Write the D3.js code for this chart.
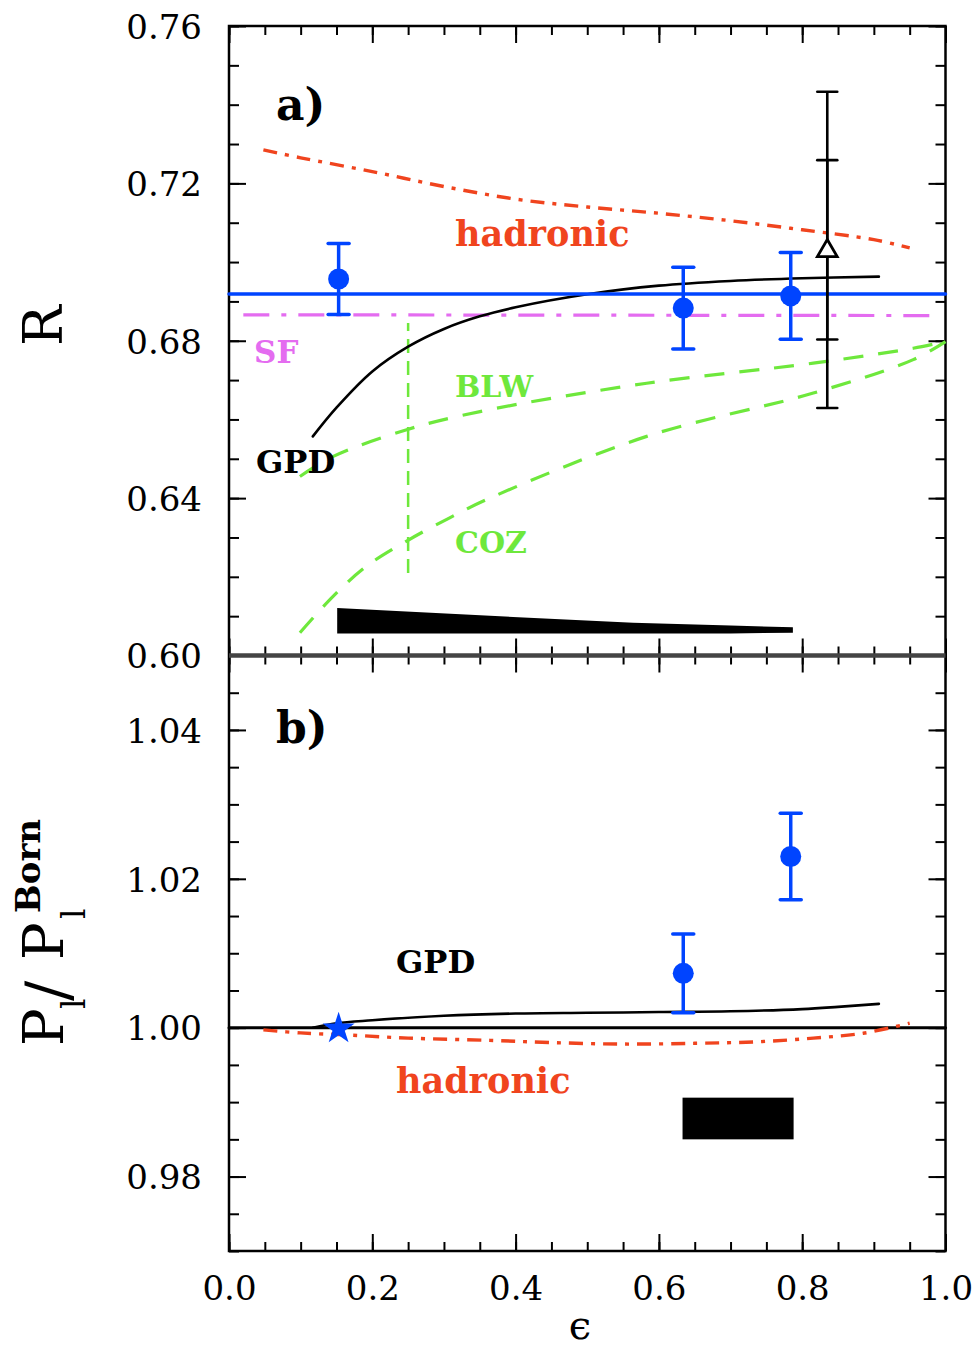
<!DOCTYPE html>
<html>
<head>
<meta charset="utf-8">
<script src="https://cdn.jsdelivr.net/npm/d3@7"></script>
<style>
  html, body { margin: 0; padding: 0; background: #fff; }
  svg { display: block; }
  text { font-family: "DejaVu Serif", serif; }
</style>
</head>
<body>
<svg id="chart" width="974" height="1350"></svg>
<script>
// ---------------- DATA ----------------
const xMajorTicks = [0, 0.2, 0.4, 0.6, 0.8, 1.0];
const xTickLabels = ["0.0", "0.2", "0.4", "0.6", "0.8", "1.0"];
const topYMajorTicks = [0.60, 0.64, 0.68, 0.72, 0.76];
const topYTickLabels = ["0.60", "0.64", "0.68", "0.72", "0.76"];
const botYMajorTicks = [0.98, 1.00, 1.02, 1.04];
const botYTickLabels = ["0.98", "1.00", "1.02", "1.04"];

// panel a) : R vs epsilon
const dataEps = [0.153, 0.634, 0.784];
const dataR = [0.6957, 0.6883, 0.6914];
const dataRErr = [0.0090, 0.0104, 0.0110];

const triEps = [0.835];
const triR = [0.7031];
const triStatErr = [0.0228];
const triTotErr = [0.0402];

const fitEps = [0.0, 1.0];
const fitR = [0.6919, 0.6919];

const gpdTopEps = [0.117, 0.15, 0.2, 0.25, 0.3, 0.35, 0.4, 0.5, 0.6, 0.7, 0.8, 0.907];
const gpdTopR = [0.6557, 0.6630, 0.6722, 0.6785, 0.6830, 0.6862, 0.6885, 0.6918, 0.6940, 0.6952, 0.6959, 0.6963];

const hadTopEps = [0.048, 0.1, 0.2, 0.3, 0.4, 0.5, 0.6, 0.7, 0.8, 0.9, 0.95];
const hadTopR = [0.7285, 0.7265, 0.7230, 0.7192, 0.7160, 0.7140, 0.7124, 0.7105, 0.7082, 0.7057, 0.7036];

const sfEps = [0.02, 0.982];
const sfR = [0.6866, 0.6864];

const blwEps = [0.099, 0.1456, 0.248, 0.3503, 0.583, 0.8155, 0.955, 1.0];
const blwR = [0.6455, 0.6506, 0.6574, 0.6620, 0.6692, 0.6743, 0.6781, 0.6798];

const cozEps = [0.099, 0.1456, 0.192, 0.248, 0.308, 0.364, 0.583, 0.8155, 0.955, 1.0];
const cozR = [0.6058, 0.6151, 0.6227, 0.6291, 0.6350, 0.6400, 0.6557, 0.6667, 0.6752, 0.6798];

const vLineEps = [0.25];
const vLineR = [0.6210, 0.6845];

const sysTopEps = [0.151, 0.33, 0.564, 0.70, 0.787];
const sysTopHi = [0.6121, 0.6104, 0.6083, 0.6076, 0.6072];
const sysTopLo = [0.6056, 0.6056, 0.6056, 0.6056, 0.6058];

// panel b) : P_l / P_l^Born vs epsilon
const starEps = [0.153];
const starP = [1.0000];

const dataPEps = [0.634, 0.784];
const dataP = [1.0073, 1.0230];
const dataPErr = [0.0053, 0.0058];

const unityEps = [0.0, 1.0];
const unityP = [1.0, 1.0];

const gpdBotEps = [0.117, 0.15, 0.2, 0.3, 0.4, 0.5, 0.6, 0.7, 0.8, 0.85, 0.907];
const gpdBotP = [1.0000, 1.0006, 1.0010, 1.0016, 1.0019, 1.0020, 1.0021, 1.0022, 1.0025, 1.0028, 1.0032];

const hadBotEps = [0.048, 0.1, 0.169, 0.25, 0.364, 0.45, 0.55, 0.65, 0.736, 0.8155, 0.885, 0.95];
const hadBotP = [0.9997, 0.9993, 0.9990, 0.9986, 0.9983, 0.9980, 0.9978, 0.9979, 0.9981, 0.9986, 0.99925, 1.0006];

const sysBotEps = [0.633, 0.788];
const sysBotLo = [0.9850, 0.9850];
const sysBotHi = [0.9906, 0.9906];

// ---------------- STYLE ----------------
const BLUE = "#0044ff", RED = "#f0441e", MAGENTA = "#e46cf0", GREEN = "#6ee83c";

// ---------------- SCALES ----------------
const svg = d3.select("#chart");
const X0 = 229, X1 = 945.5, YT = 26, YM = 655.5, YB = 1251;
const x = d3.scaleLinear().domain([0, 1]).range([X0, X1]);
const yA = d3.scaleLinear().domain([0.60, 0.76]).range([YM, YT]);
const yB = d3.scaleLinear().domain([0.97, 1.05]).range([YB, YM]);

const range = (a, b, s) => d3.range(Math.round((b - a) / s) + 1).map(i => +(a + i * s).toFixed(4));
const xMinor = range(0, 1, 0.05);
const yAMinor = range(0.60, 0.76, 0.01);
const yBMinor = range(0.97, 1.05, 0.005);

// ---------------- AXES ----------------
function ticks(g, axisFn, scale, values, size) {
  g.call(axisFn(scale).tickValues(values).tickSizeInner(size).tickSizeOuter(0).tickFormat(""))
   .call(s => s.select(".domain").remove())
   .selectAll("line").attr("stroke", "#000").attr("stroke-width", 2);
}
function panelAxes(yScale, yMajor, yMinor, yTop, yBot) {
  ticks(svg.append("g").attr("transform", `translate(${X0},0)`), d3.axisLeft, yScale, yMajor, -17);
  ticks(svg.append("g").attr("transform", `translate(${X0},0)`), d3.axisLeft, yScale, yMinor, -10);
  ticks(svg.append("g").attr("transform", `translate(${X1},0)`), d3.axisRight, yScale, yMajor, -17);
  ticks(svg.append("g").attr("transform", `translate(${X1},0)`), d3.axisRight, yScale, yMinor, -10);
  ticks(svg.append("g").attr("transform", `translate(0,${yTop})`), d3.axisTop, x, xMajorTicks, -17);
  ticks(svg.append("g").attr("transform", `translate(0,${yTop})`), d3.axisTop, x, xMinor, -9);
  ticks(svg.append("g").attr("transform", `translate(0,${yBot})`), d3.axisBottom, x, xMajorTicks, -17);
  ticks(svg.append("g").attr("transform", `translate(0,${yBot})`), d3.axisBottom, x, xMinor, -9);
}
panelAxes(yA, topYMajorTicks, yAMinor, YT, YM);
panelAxes(yB, botYMajorTicks, yBMinor, YM, YB);

// tick labels
function yLabels(scale, vals, labs) {
  svg.append("g").attr("transform", `translate(${X0},0)`)
    .call(d3.axisLeft(scale).tickValues(vals).tickSize(0).tickPadding(27)
      .tickFormat((d, i) => labs[i]))
    .call(s => s.select(".domain").remove())
    .selectAll("text").attr("font-family", "DejaVu Serif").attr("font-size", 34).attr("fill", "#000")
    .attr("dy", "0.36em");
}
yLabels(yA, topYMajorTicks, topYTickLabels);
yLabels(yB, botYMajorTicks, botYTickLabels);
svg.append("g").attr("transform", `translate(0,${YB})`)
  .call(d3.axisBottom(x).tickValues(xMajorTicks).tickSize(0).tickPadding(25)
    .tickFormat((d, i) => xTickLabels[i]))
  .call(s => s.select(".domain").remove())
  .selectAll("text").attr("font-family", "DejaVu Serif").attr("font-size", 34).attr("fill", "#000");

// frames
svg.append("rect").attr("x", X0).attr("y", YT).attr("width", X1 - X0).attr("height", YB - YT)
  .attr("fill", "none").attr("stroke", "#000").attr("stroke-width", 2.5);
svg.append("line").attr("x1", X0).attr("x2", X1).attr("y1", YM).attr("y2", YM)
  .attr("stroke", "#444").attr("stroke-width", 4.5);

// ---------------- PANEL A ----------------
const zip = (a, b) => a.map((v, i) => [v, b[i]]);
function curve(g, xs, ys, yScale, color, width, dash, smooth) {
  const ln = d3.line().x(d => x(d[0])).y(d => yScale(d[1]));
  if (smooth) ln.curve(d3.curveCatmullRom.alpha(0.5));
  g.append("path").datum(zip(xs, ys)).attr("d", ln)
    .attr("fill", "none").attr("stroke", color).attr("stroke-width", width)
    .attr("stroke-dasharray", dash || null).attr("stroke-linecap", dash ? "butt" : "round");
}
const gA = svg.append("g");

// systematic band
gA.append("path")
  .datum(sysTopEps.map((e, i) => ({ e, lo: sysTopLo[i], hi: sysTopHi[i] })))
  .attr("d", d3.area().x(d => x(d.e)).y0(d => yA(d.lo)).y1(d => yA(d.hi)))
  .attr("fill", "#000");

curve(gA, cozEps, cozR, yA, GREEN, 3.2, "20,15", true);
curve(gA, blwEps, blwR, yA, GREEN, 3.2, "20,15", true);
gA.append("line").attr("x1", x(vLineEps[0])).attr("x2", x(vLineEps[0]))
  .attr("y1", yA(vLineR[0])).attr("y2", yA(vLineR[1]))
  .attr("stroke", GREEN).attr("stroke-width", 2.5).attr("stroke-dasharray", "14,8");
curve(gA, sfEps, sfR, yA, MAGENTA, 3.2, "26,12,5,12", false);
curve(gA, hadTopEps, hadTopR, yA, RED, 3.4, "14,8,4,8", true);
curve(gA, gpdTopEps, gpdTopR, yA, "#000", 2.6, null, true);
curve(gA, fitEps, fitR, yA, BLUE, 3.5, null, false);

// blue data points
function errBars(g, xs, ys, errs, yScale, color, capW, w) {
  xs.forEach((e, i) => {
    const cx = x(e);
    g.append("line").attr("x1", cx).attr("x2", cx)
      .attr("y1", yScale(ys[i] - errs[i])).attr("y2", yScale(ys[i] + errs[i]))
      .attr("stroke", color).attr("stroke-width", w);
    [ys[i] - errs[i], ys[i] + errs[i]].forEach(v => {
      g.append("line").attr("x1", cx - capW / 2).attr("x2", cx + capW / 2)
        .attr("y1", yScale(v)).attr("y2", yScale(v))
        .attr("stroke", color).attr("stroke-width", w).attr("stroke-linecap", "round");
    });
  });
}
errBars(gA, dataEps, dataR, dataRErr, yA, BLUE, 21, 3.5);
gA.selectAll("circle.a").data(zip(dataEps, dataR)).enter().append("circle")
  .attr("cx", d => x(d[0])).attr("cy", d => yA(d[1])).attr("r", 10.5).attr("fill", BLUE);

// triangle point with stat + total errors
errBars(gA, triEps, triR, triTotErr, yA, "#000", 20, 2.6);
errBars(gA, triEps, triR, triStatErr, yA, "#000", 20, 2.6);
gA.selectAll("path.tri").data(zip(triEps, triR)).enter().append("path")
  .attr("d", d3.symbol(d3.symbolTriangle, 170))
  .attr("transform", d => `translate(${x(d[0])},${yA(d[1]) + 1})`)
  .attr("fill", "#fff").attr("stroke", "#000").attr("stroke-width", 2.8);

// labels panel a
const lab = (t, px, py, size, color, weight) =>
  svg.append("text").attr("x", px).attr("y", py).attr("font-size", size)
    .attr("font-weight", weight || "bold").attr("fill", color).text(t);
lab("a)", 276, 120, 44, "#000");
lab("hadronic", 455, 246, 35, RED);
lab("SF", 254, 363, 31, MAGENTA);
lab("GPD", 256, 473, 32, "#000");
lab("BLW", 455, 397, 30, GREEN);
lab("COZ", 455, 553, 30, GREEN);

// ---------------- PANEL B ----------------
const gB = svg.append("g");
gB.append("rect")
  .attr("x", x(sysBotEps[0])).attr("width", x(sysBotEps[1]) - x(sysBotEps[0]))
  .attr("y", yB(sysBotHi[0])).attr("height", yB(sysBotLo[0]) - yB(sysBotHi[0]))
  .attr("fill", "#000");
curve(gB, unityEps, unityP, yB, "#000", 3, null, false);
curve(gB, hadBotEps, hadBotP, yB, RED, 3.4, "14,8,4,8", true);
curve(gB, gpdBotEps, gpdBotP, yB, "#000", 2.6, null, true);
errBars(gB, dataPEps, dataP, dataPErr, yB, BLUE, 21, 3.5);
gB.selectAll("circle.b").data(zip(dataPEps, dataP)).enter().append("circle")
  .attr("cx", d => x(d[0])).attr("cy", d => yB(d[1])).attr("r", 10.5).attr("fill", BLUE);
gB.selectAll("path.star").data(zip(starEps, starP)).enter().append("path")
  .attr("d", d3.symbol(d3.symbolStar, 320))
  .attr("transform", d => `translate(${x(d[0])},${yB(d[1]) + 1})`)
  .attr("fill", BLUE);

lab("b)", 276, 743, 44, "#000");
lab("GPD", 396, 973, 32, "#000");
lab("hadronic", 396, 1093, 35, RED);

// ---------------- AXIS TITLES ----------------
const rot = (t, xb, ys, size, weight) =>
  svg.append("text").attr("transform", `translate(${xb},${ys}) rotate(-90)`)
    .attr("font-size", size).attr("font-weight", weight || "normal").attr("fill", "#000").text(t);
rot("R", 62, 346, 54);
rot("P", 63, 1046, 56);
rot("l", 85, 1009, 33);
rot("/", 68, 1001, 60);
rot("P", 63, 960, 56);
rot("l", 85, 919, 33);
rot("Born", 40, 913, 34, "bold");

svg.append("text").attr("x", 580).attr("y", 1339).attr("text-anchor", "middle")
  .attr("font-size", 40).attr("fill", "#000").text("ϵ");
</script>
</body>
</html>
